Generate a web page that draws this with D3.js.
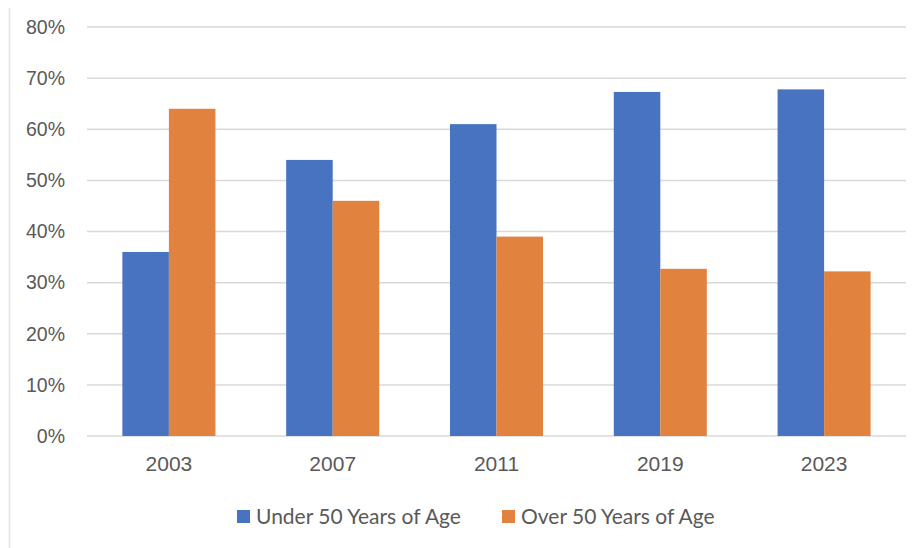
<!DOCTYPE html>
<html lang="en">
<head>
    <meta charset="UTF-8">
    <title>Age Share by Year</title>
    <script src="https://d3js.org/d3.v7.min.js"></script>
    <style>
        body {
            margin: 0;
            background: #fff;
            font-family: Lato, "Open Sans", Arial, sans-serif;
        }
        .tick text {
            fill: #595959;
            font-size: 19.5px;
        }
        .x-axis .tick text {
            font-size: 21px;
        }
        .grid line {
            stroke: #d9d9d9;
            stroke-width: 1.5;
        }
        .legend-text {
            fill: #595959;
            font-size: 21px;
        }
    </style>
</head>
<body>
    <script>
        const years = ["2003", "2007", "2011", "2019", "2023"];
        const under50 = [36, 54, 61, 67.3, 67.8];
        const over50 = [64, 46, 39, 32.7, 32.2];
        const yTicks = [0, 10, 20, 30, 40, 50, 60, 70, 80];
        const seriesNames = ["Under 50 Years of Age", "Over 50 Years of Age"];
        const colors = ["#4773C1", "#E1823F"];

        const W = 920, H = 548;
        const margin = { top: 27, right: 14, bottom: 112, left: 87 };
        const width = W - margin.left - margin.right,
            height = H - margin.top - margin.bottom;

        const root = d3.select("body").append("svg")
            .attr("width", W)
            .attr("height", H);

        // thin frame line on the left
        root.append("line")
            .attr("x1", 9.5).attr("x2", 9.5)
            .attr("y1", 8).attr("y2", H)
            .attr("stroke", "#e3e3e3")
            .attr("stroke-width", 1.5);

        const svg = root.append("g")
            .attr("transform", `translate(${margin.left},${margin.top})`);

        const x0 = d3.scaleBand()
            .domain(years)
            .range([0, width])
            .paddingInner(0.432)
            .paddingOuter(0.216);

        const x1 = d3.scaleBand()
            .domain([0, 1])
            .range([0, x0.bandwidth()]);

        const y = d3.scaleLinear()
            .domain([0, 80])
            .range([height, 0]);

        // gridlines
        svg.append("g")
            .attr("class", "grid")
            .selectAll("line")
            .data(yTicks)
            .join("line")
            .attr("x1", 0)
            .attr("x2", width)
            .attr("y1", d => y(d))
            .attr("y2", d => y(d));

        const rows = years.map((yr, i) => ({ year: yr, values: [under50[i], over50[i]] }));

        svg.selectAll(".group")
            .data(rows)
            .join("g")
            .attr("class", "group")
            .attr("transform", d => `translate(${x0(d.year)},0)`)
            .selectAll("rect")
            .data(d => d.values.map((v, k) => ({ k, v })))
            .join("rect")
            .attr("x", d => x1(d.k))
            .attr("width", x1.bandwidth())
            .attr("y", d => y(d.v))
            .attr("height", d => height - y(d.v))
            .attr("fill", d => colors[d.k]);

        // y axis
        svg.append("g")
            .call(d3.axisLeft(y).tickValues(yTicks).tickFormat(d => d + "%").tickSize(0).tickPadding(22))
            .call(g => g.select(".domain").remove());

        // x axis
        svg.append("g")
            .attr("class", "x-axis")
            .attr("transform", `translate(0,${height})`)
            .call(d3.axisBottom(x0).tickSize(0).tickPadding(20))
            .call(g => g.select(".domain").remove());

        // legend
        const legend = root.append("g")
            .attr("transform", `translate(237, 510)`);
        const offsets = [0, 265];
        seriesNames.forEach((name, i) => {
            const g = legend.append("g").attr("transform", `translate(${offsets[i]},0)`);
            g.append("rect")
                .attr("width", 13).attr("height", 13)
                .attr("fill", colors[i]);
            g.append("text")
                .attr("class", "legend-text")
                .attr("x", 19)
                .attr("y", 7)
                .attr("dy", "0.35em")
                .text(name);
        });
    </script>
</body>
</html>
